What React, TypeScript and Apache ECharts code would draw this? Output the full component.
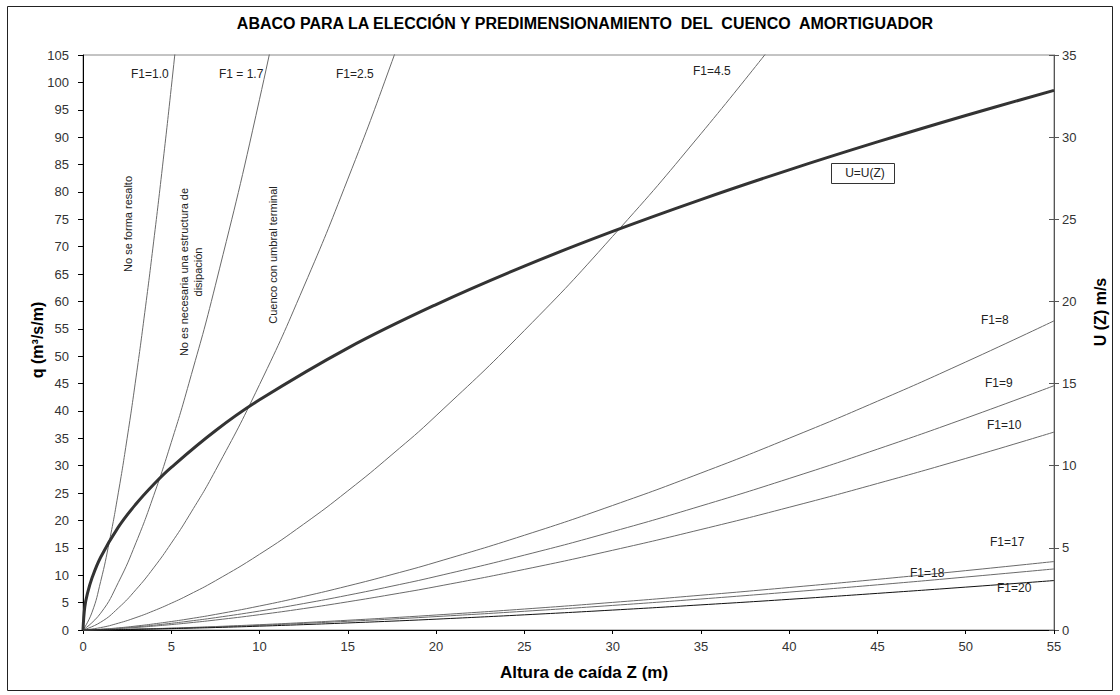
import React, { useEffect, useRef } from "react";
import * as echarts from "echarts";

// Altura de caída Z (m) sample points
const zFine = [0, 0.5, 1, 1.5, 2, 2.5, 3, 3.5, 4, 4.5, 5, 5.5];
const zGrid = [0, 1, 2, 3, 4, 5, 6, 7.5, 10, 12.5, 15, 17.5, 20, 25, 30, 35, 40, 45, 50, 55];
const zU = [0, 0.1, 0.25, 0.5, 1, 2, 3, 4, 5, 7.5, 10, 15, 20, 25, 30, 35, 40, 45, 50, 55];

// q (m3/s/m) read for each Froude curve
const qF1_10 = [0, 3.13, 8.86, 16.27, 25.05, 35.02, 46.03, 58.0, 70.87, 84.57, 99.05, 114.3];
const qF1_17 = [0, 3.07, 8.67, 15.93, 24.52, 34.27, 45.06, 62.96, 96.92, 135.4];
const qF1_25 = [0, 1.42, 4.01, 7.37, 11.34, 15.85, 20.84, 29.12, 44.82, 62.64, 82.34, 103.8, 126.8];
const qF1_45 = [0, 0.44, 1.24, 2.27, 3.5, 4.89, 6.43, 8.99, 13.83, 19.33, 25.41, 32.03, 39.13, 54.69, 71.88, 90.61, 110.7];
const qF1_8 = [0, 0.14, 0.39, 0.72, 1.11, 1.55, 2.03, 2.84, 4.38, 6.12, 8.04, 10.13, 12.38, 17.3, 22.74, 28.66, 35.02, 41.78, 48.94, 56.45];
const qF1_9 = [0, 0.11, 0.31, 0.57, 0.87, 1.22, 1.61, 2.25, 3.46, 4.83, 6.35, 8.01, 9.78, 13.67, 17.97, 22.65, 27.67, 33.02, 38.67, 44.61];
const qF1_10b = [0, 0.09, 0.25, 0.46, 0.71, 0.99, 1.3, 1.82, 2.8, 3.91, 5.15, 6.49, 7.92, 11.07, 14.56, 18.35, 22.41, 26.75, 31.33, 36.14];
const qF1_17b = [0, 0.03, 0.09, 0.16, 0.25, 0.34, 0.45, 0.63, 0.97, 1.35, 1.78, 2.24, 2.74, 3.83, 5.04, 6.35, 7.76, 9.25, 10.84, 12.5];
const qF1_18 = [0, 0.03, 0.08, 0.14, 0.22, 0.31, 0.4, 0.56, 0.86, 1.21, 1.59, 2.0, 2.45, 3.42, 4.49, 5.66, 6.92, 8.25, 9.67, 11.15];
const qF1_20 = [0, 0.02, 0.06, 0.12, 0.18, 0.25, 0.33, 0.45, 0.7, 0.98, 1.29, 1.62, 1.98, 2.77, 3.64, 4.59, 5.6, 6.69, 7.83, 9.03];

// U (Z) m/s
const uValues = [0, 1.4, 2.21, 3.13, 4.43, 6.26, 7.67, 8.86, 9.9, 12.13, 14.01, 17.16, 19.81, 22.15, 24.26, 26.2, 28.01, 29.71, 31.32, 32.85];

const titleText = "ABACO PARA LA ELECCIÓN Y PREDIMENSIONAMIENTO  DEL  CUENCO  AMORTIGUADOR";
const xName = "Altura de caída Z (m)";
const yLeftName = "q (m³/s/m)";
const yRightName = "U (Z) m/s";

const FONT = "Arial, 'Liberation Sans', sans-serif";

function pairs(xs: number[], ys: number[]) {
  return ys.map((y, i) => [xs[i], y]);
}

export default function App() {
  const ref = useRef<HTMLDivElement>(null);
  useEffect(() => {
    document.body.style.margin = "0";
    const chart = echarts.init(ref.current!, null, { renderer: "svg" });
    const thin = (name: string, xs: number[], ys: number[], color = "#6a6a6a") => ({
      name,
      type: "line",
      data: pairs(xs, ys),
      smooth: 0.5,
      showSymbol: false,
      symbol: "none",
      clip: true,
      lineStyle: { color, width: 1 },
      z: 3,
    });
    const lbl = (text: string, x: number, y: number, extra: any = {}) => ({
      type: "text",
      x,
      y,
      style: { text, fill: "#222", font: `12px ${FONT}`, textAlign: "left", textVerticalAlign: "middle", ...extra },
      z: 10,
    });
    const vlbl = (text: string, x: number, y: number) => ({
      type: "text",
      x,
      y,
      rotation: Math.PI / 2,
      style: { text, fill: "#222", font: `11px ${FONT}`, textAlign: "center", textVerticalAlign: "middle", lineHeight: 14 },
      z: 10,
    });
    const axisLabelStyle = { color: "#333", fontSize: 13, fontFamily: FONT };
    chart.setOption({
      animation: false,
      backgroundColor: "#fff",
      grid: { left: 83, right: 66, top: 55, bottom: 65, show: true, borderColor: "#888", borderWidth: 1, backgroundColor: "transparent" },
      xAxis: {
        type: "value",
        min: 0,
        max: 55,
        interval: 5,
        axisLine: { lineStyle: { color: "#000", width: 1 } },
        axisTick: { length: 4, lineStyle: { color: "#000" } },
        axisLabel: { ...axisLabelStyle, margin: 10 },
        splitLine: { show: false },
      },
      yAxis: [
        {
          type: "value",
          min: 0,
          max: 105,
          interval: 5,
          position: "left",
          axisLine: { show: true, lineStyle: { color: "#000", width: 1 } },
          axisTick: { show: true, length: 5, lineStyle: { color: "#000" } },
          axisLabel: { ...axisLabelStyle, margin: 14 },
          splitLine: { show: false },
        },
        {
          type: "value",
          min: 0,
          max: 35,
          interval: 5,
          position: "right",
          axisLine: { show: true, lineStyle: { color: "#555", width: 1 } },
          axisTick: { show: true, length: 5, lineStyle: { color: "#555" } },
          axisLabel: { ...axisLabelStyle, margin: 8 },
          splitLine: { show: false },
        },
        {
          type: "value",
          min: 0,
          max: 35,
          interval: 5,
          position: "right",
          axisLine: { show: false },
          axisTick: { show: true, inside: true, length: 5, lineStyle: { color: "#555" } },
          axisLabel: { show: false },
          splitLine: { show: false },
        },
      ],
      series: [
        thin("F1=1.0", zFine, qF1_10),
        thin("F1=1.7", zGrid, qF1_17),
        thin("F1=2.5", zGrid, qF1_25),
        thin("F1=4.5", zGrid, qF1_45),
        thin("F1=8", zGrid, qF1_8),
        thin("F1=9", zGrid, qF1_9),
        thin("F1=10", zGrid, qF1_10b),
        thin("F1=17", zGrid, qF1_17b),
        thin("F1=18", zGrid, qF1_18),
        thin("F1=20", zGrid, qF1_20, "#111"),
        {
          name: "U=U(Z)",
          type: "line",
          yAxisIndex: 1,
          data: pairs(zU, uValues),
          smooth: 0.4,
          showSymbol: false,
          symbol: "none",
          clip: true,
          lineStyle: { color: "#333", width: 3 },
          z: 4,
        },
      ],
      graphic: [
        {
          type: "rect",
          shape: { x: 7.5, y: 6.5, width: 1105, height: 684 },
          style: { fill: "none", stroke: "#222", lineWidth: 1 },
          silent: true,
          z: 0,
        },
        {
          type: "text",
          x: 585,
          y: 23,
          style: { text: titleText, fill: "#000", font: `bold 16px ${FONT}`, textAlign: "center", textVerticalAlign: "middle" },
        },
        {
          type: "text",
          x: 584,
          y: 672,
          style: { text: xName, fill: "#000", font: `bold 17px ${FONT}`, textAlign: "center", textVerticalAlign: "middle" },
        },
        {
          type: "text",
          x: 37,
          y: 340,
          rotation: Math.PI / 2,
          style: { text: yLeftName, fill: "#000", font: `bold 16px ${FONT}`, textAlign: "center", textVerticalAlign: "middle" },
        },
        {
          type: "text",
          x: 1100,
          y: 312,
          rotation: Math.PI / 2,
          style: { text: yRightName, fill: "#000", font: `bold 16px ${FONT}`, textAlign: "center", textVerticalAlign: "middle" },
        },
        lbl("F1=1.0", 131, 74),
        lbl("F1 = 1.7", 219, 74),
        lbl("F1=2.5", 336, 74),
        lbl("F1=4.5", 693, 71),
        lbl("F1=8", 981, 320),
        lbl("F1=9", 985, 383),
        lbl("F1=10", 987, 425),
        lbl("F1=17", 990, 542),
        lbl("F1=18", 910, 573),
        lbl("F1=20", 997, 588),
        {
          type: "rect",
          shape: { x: 831.5, y: 163.5, width: 63, height: 20 },
          style: { fill: "#fff", stroke: "#333", lineWidth: 1 },
          z: 9,
        },
        lbl("U=U(Z)", 865, 173, { textAlign: "center" }),
        vlbl("No se forma resalto", 128, 224),
        vlbl("No es necesaria una estructura de\ndisipación", 191, 272),
        vlbl("Cuenco con umbral terminal", 273, 255),
      ],
    });
    return () => chart.dispose();
  }, []);
  return <div ref={ref} style={{ width: 1120, height: 695 }} />;
}
